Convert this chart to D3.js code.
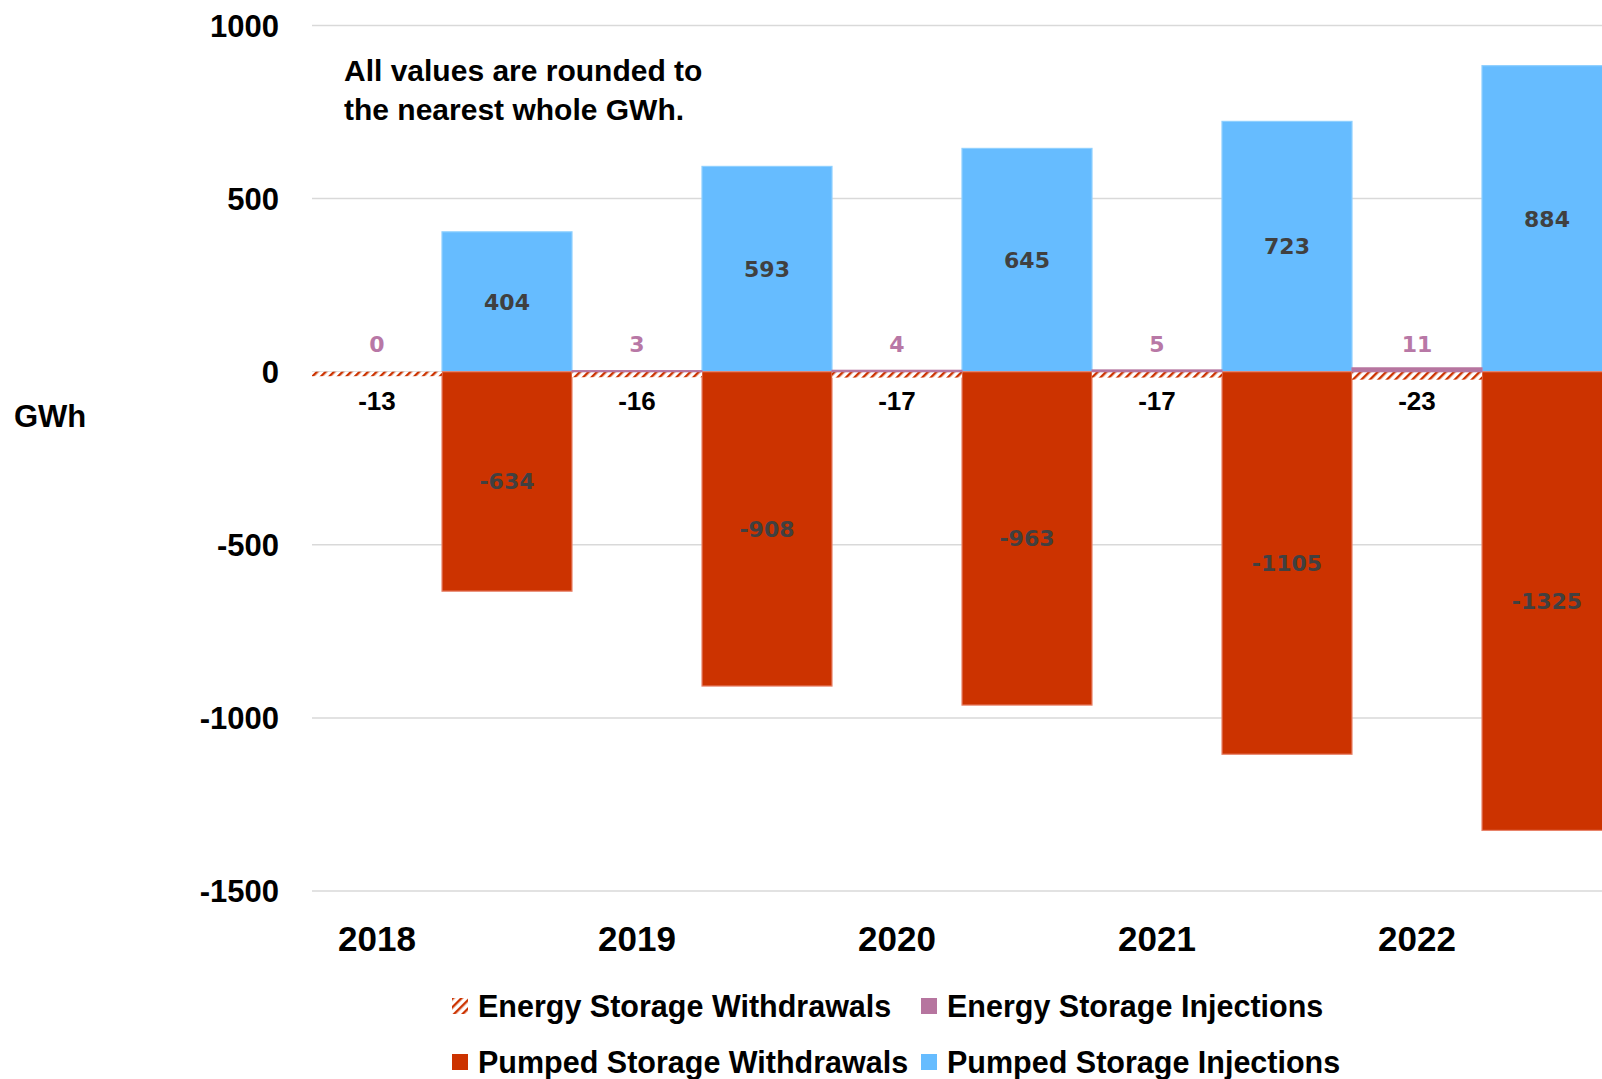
<!DOCTYPE html>
<html>
<head>
<meta charset="utf-8">
<script src="https://cdn.jsdelivr.net/npm/d3@7"></script>
<style>
  body { margin: 0; background: #fff; }
  svg { display: block; }
  text { font-family: "Liberation Sans", Arial, sans-serif; }
</style>
</head>
<body>
<script>
const years = ["2018", "2019", "2020", "2021", "2022"];
const esWithdrawals = [-13, -16, -17, -17, -23];
const esInjections = [0, 3, 4, 5, 11];
const psWithdrawals = [-634, -908, -963, -1105, -1325];
const psInjections = [404, 593, 645, 723, 884];
const yTicks = [-1500, -1000, -500, 0, 500, 1000];

const width = 1602;
const height = 1079;

const svg = d3.select("body").append("svg")
    .attr("width", width)
    .attr("height", height);

// hatch for energy storage withdrawals
const defs = svg.append("defs");
defs.append("pattern")
    .attr("id", "hatch")
    .attr("patternUnits", "userSpaceOnUse")
    .attr("width", 6)
    .attr("height", 6)
    .attr("patternTransform", "rotate(45)")
    .call(p => p.append("rect").attr("width", 6).attr("height", 6).attr("fill", "#fff"))
    .append("rect")
    .attr("width", 2.4)
    .attr("height", 6)
    .attr("fill", "#cc3300");

const y = d3.scaleLinear().domain([-1500, 1000]).range([891, 25.5]);
const x = d3.scaleBand().domain(years).range([312, 1612]).padding(0);
const sub = d3.scaleBand().domain(["energy", "pumped"]).range([0, x.bandwidth()]).padding(0);

// gridlines
svg.append("g")
    .selectAll("line")
    .data(yTicks)
    .enter()
    .append("line")
    .attr("x1", 312)
    .attr("x2", width)
    .attr("y1", d => y(d))
    .attr("y2", d => y(d))
    .attr("stroke", "#d9d9d9")
    .attr("stroke-width", 1.5);

// y tick labels
svg.append("g")
    .selectAll("text")
    .data(yTicks)
    .enter()
    .append("text")
    .attr("x", 279)
    .attr("y", d => y(d))
    .attr("dy", "0.36em")
    .attr("text-anchor", "end")
    .style("font-size", "31px")
    .style("font-weight", "bold")
    .text(d => d);

svg.append("text")
    .attr("x", 14)
    .attr("y", 416)
    .attr("dy", "0.36em")
    .style("font-size", "31px")
    .style("font-weight", "bold")
    .text("GWh");

// x labels, centred under the energy storage bars
svg.append("g")
    .selectAll("text")
    .data(years)
    .enter()
    .append("text")
    .attr("x", d => x(d) + sub("energy") + sub.bandwidth() / 2)
    .attr("y", 938)
    .attr("dy", "0.36em")
    .attr("text-anchor", "middle")
    .style("font-size", "35px")
    .style("font-weight", "bold")
    .text(d => d);

const rows = years.map((yr, i) => ({
    year: yr,
    esW: esWithdrawals[i],
    esI: esInjections[i],
    psW: psWithdrawals[i],
    psI: psInjections[i]
}));

const bars = svg.append("g");

const drawBars = (key, slot, fill, stroke) => {
    bars.append("g")
        .selectAll("rect")
        .data(rows)
        .enter()
        .append("rect")
        .attr("x", d => x(d.year) + sub(slot))
        .attr("width", sub.bandwidth())
        .attr("y", d => y(Math.max(0, d[key])))
        .attr("height", d => Math.abs(y(d[key]) - y(0)))
        .attr("fill", fill)
        .attr("stroke", stroke)
        .attr("stroke-width", stroke ? 1.2 : 0);
};

drawBars("psI", "pumped", "#66bcff", "#8fd0ff");
drawBars("psW", "pumped", "#cc3300", "#e8836a");
drawBars("esW", "energy", "url(#hatch)", null);
drawBars("esI", "energy", "#b6759f", "#b6759f");

// data labels
const labels = svg.append("g");

labels.selectAll(".ps-inj")
    .data(rows)
    .enter()
    .append("text")
    .attr("x", d => x(d.year) + sub("pumped") + sub.bandwidth() / 2)
    .attr("y", d => (y(d.psI) + y(0)) / 2)
    .attr("dy", "0.36em")
    .attr("text-anchor", "middle")
    .style("font-family", "'DejaVu Sans', Verdana, sans-serif")
    .style("font-size", "22px")
    .style("font-weight", "bold")
    .attr("fill", "#404040")
    .text(d => d.psI);

labels.selectAll(".ps-wd")
    .data(rows)
    .enter()
    .append("text")
    .attr("x", d => x(d.year) + sub("pumped") + sub.bandwidth() / 2)
    .attr("y", d => (y(d.psW) + y(0)) / 2)
    .attr("dy", "0.36em")
    .attr("text-anchor", "middle")
    .style("font-family", "'DejaVu Sans', Verdana, sans-serif")
    .style("font-size", "22px")
    .style("font-weight", "bold")
    .attr("fill", "#404040")
    .text(d => d.psW);

labels.selectAll(".es-inj")
    .data(rows)
    .enter()
    .append("text")
    .attr("x", d => x(d.year) + sub("energy") + sub.bandwidth() / 2)
    .attr("y", y(0) - 28)
    .attr("dy", "0.36em")
    .attr("text-anchor", "middle")
    .style("font-family", "'DejaVu Sans', Verdana, sans-serif")
    .style("font-size", "22px")
    .style("font-weight", "bold")
    .attr("fill", "#b878a6")
    .text(d => d.esI);

labels.selectAll(".es-wd")
    .data(rows)
    .enter()
    .append("text")
    .attr("x", d => x(d.year) + sub("energy") + sub.bandwidth() / 2)
    .attr("y", y(0) + 29)
    .attr("dy", "0.36em")
    .attr("text-anchor", "middle")
    .style("font-size", "26px")
    .style("font-weight", "bold")
    .attr("fill", "#000")
    .text(d => d.esW);

// note
svg.append("text")
    .attr("x", 344)
    .attr("y", 70.5)
    .attr("dy", "0.36em")
    .style("font-size", "30px")
    .style("font-weight", "bold")
    .text("All values are rounded to");
svg.append("text")
    .attr("x", 344)
    .attr("y", 109.5)
    .attr("dy", "0.36em")
    .style("font-size", "30px")
    .style("font-weight", "bold")
    .text("the nearest whole GWh.");

// legend
const legendItems = [
    { name: "Energy Storage Withdrawals", fill: "url(#hatch)", col: 0, row: 0 },
    { name: "Energy Storage Injections", fill: "#b6759f", col: 1, row: 0 },
    { name: "Pumped Storage Withdrawals", fill: "#cc3300", col: 0, row: 1 },
    { name: "Pumped Storage Injections", fill: "#66bcff", col: 1, row: 1 }
];
const legendX = [452, 921];
const legendY = [1006, 1062];

const legend = svg.append("g")
    .selectAll("g")
    .data(legendItems)
    .enter()
    .append("g")
    .attr("transform", d => `translate(${legendX[d.col]}, ${legendY[d.row]})`);

legend.append("rect")
    .attr("x", 0)
    .attr("y", -8)
    .attr("width", 16)
    .attr("height", 16)
    .attr("fill", d => d.fill);

legend.append("text")
    .attr("x", 26)
    .attr("y", 0)
    .attr("dy", "0.36em")
    .style("font-size", "30.5px")
    .style("font-weight", "bold")
    .text(d => d.name);
</script>
</body>
</html>
